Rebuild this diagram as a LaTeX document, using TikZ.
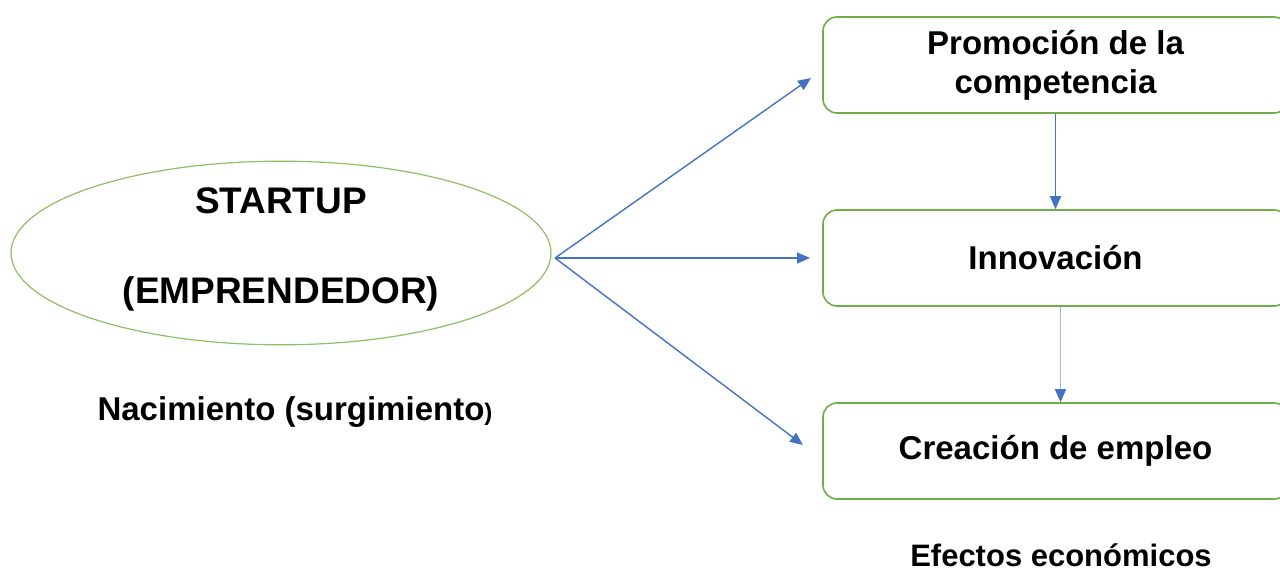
\documentclass[tikz,border=0pt]{standalone}
\usepackage{fontspec}
\setmainfont{Liberation Sans}
\usetikzlibrary{shapes.geometric,arrows.meta}
\definecolor{boxgreen}{HTML}{70AD47}
\definecolor{ellgreen}{HTML}{8DC065}
\definecolor{arrblue}{HTML}{4472C4}
\definecolor{paleblue}{HTML}{A3BCE6}
\begin{document}
\begin{tikzpicture}[x=1pt,y=-1pt,
  effect/.style={draw=boxgreen,line width=1.6pt,rounded corners=14pt,
    minimum width=465pt,minimum height=96pt,inner sep=0pt,
    font=\bfseries\fontsize{33}{39}\selectfont,align=center},
  flow/.style={draw=arrblue,line width=1.4pt,-{Triangle[length=13pt,width=11pt]}},
  caption/.style={font=\bfseries\fontsize{33}{38}\selectfont,anchor=base}]
  \useasboundingbox (0,0) rectangle (1280,570);
  \begin{scope}
  \clip (0,0) rectangle (1280,570);
  % emprendedor
  \node[ellipse,draw=ellgreen,line width=1.2pt,minimum width=540pt,minimum height=180pt,
        inner sep=0pt,text depth=14pt,align=center,font=\bfseries\fontsize{37}{90}\selectfont]
        (startup) at (281,253) {STARTUP\\(EMPRENDEDOR)};
  \node[caption] (birth) at (295,420) {Nacimiento (surgimiento{\fontsize{24}{28}\selectfont)}};
  % effects
  \node[effect] (comp) at (1055.5,65) {\rule{0pt}{4pt}Promoción de la\\competencia};
  \node[effect] (innov) at (1055.5,258) {Innovación};
  \node[effect] (empleo) at (1055.5,451) {Creación de empleo};
  \node[caption,font=\bfseries\fontsize{31}{36}\selectfont] (efectos) at (1061,566) {Efectos económicos};
  % arrows from the startup
  \coordinate (src) at (555,258);
  \coordinate (t1) at (811,78);
  \coordinate (t2) at (810,258);
  \coordinate (t3) at (803,445);
  \draw[flow] (src) -- (t1);
  \draw[flow] (src) -- (t2);
  \draw[flow] (src) -- (t3);
  % chain between effects
  \draw[flow] (comp.south) -- (innov.north);
  \draw[draw=paleblue,line width=1.4pt,-{Triangle[length=13pt,width=11pt,color=arrblue]}]
    ([xshift=5pt]innov.south) -- ([xshift=5pt]empleo.north);
  \end{scope}
\end{tikzpicture}
\end{document}
